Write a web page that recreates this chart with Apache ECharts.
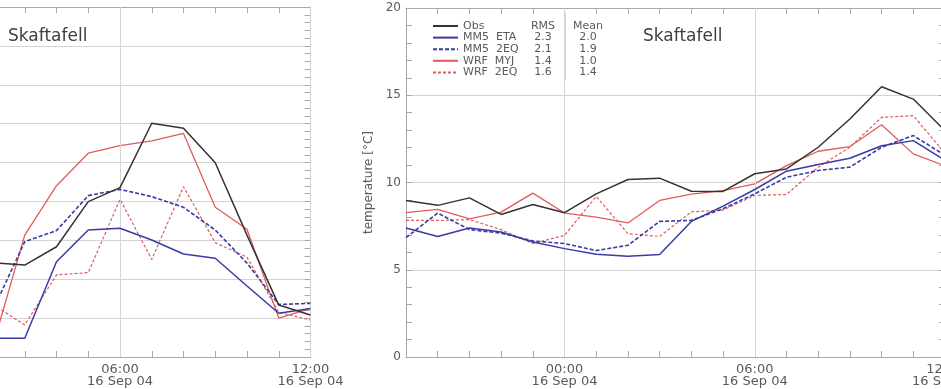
<!DOCTYPE html>
<html>
<head>
<meta charset="utf-8">
<script src="https://cdn.jsdelivr.net/npm/echarts@6/dist/echarts.min.js"></script>
<style>
html,body{margin:0;padding:0;background:#fff;}
#c{width:941px;height:389px;}
</style>
</head>
<body>
<div id="c"></div>
<script>
// ---- data ----
const seriesNames = ['Obs', 'MM5  ETA', 'MM5  2EQ', 'WRF  MYJ', 'WRF  2EQ'];
const rmsValues = [null, 2.3, 2.1, 1.4, 1.6];
const meanValues = [null, 2.0, 1.9, 1.0, 1.4];

// left panel (hours relative to 00:00 16 Sep 04)
const hoursLeft = [2, 3, 4, 5, 6, 7, 8, 9, 10, 11, 12];
const obsLeft    = [4.85, 4.73, 5.67, 7.99, 8.71, 12.02, 11.76, 9.99, 6.27, 2.67, 2.16];
const mm5EtaLeft = [0.96, 0.96, 4.90, 6.53, 6.62, 6.02, 5.30, 5.08, 3.65, 2.25, 2.50];
const mm52eqLeft = [2.42, 5.93, 6.50, 8.30, 8.62, 8.25, 7.70, 6.53, 4.83, 2.70, 2.76];
const wrfMyjLeft = [0.60, 6.27, 8.81, 10.48, 10.87, 11.12, 11.50, 7.70, 6.57, 2.00, 2.50];
const wrf2eqLeft = [2.70, 1.65, 4.22, 4.34, 8.11, 5.02, 8.76, 5.88, 5.13, 2.30, 1.90];

// right panel: temperature [°C]
const hoursRight = [-5, -4, -3, -2, -1, 0, 1, 2, 3, 4, 5, 6, 7, 8, 9, 10, 11, 12];
const obsRight    = [8.97, 8.69, 9.12, 8.17, 8.74, 8.27, 9.35, 10.17, 10.25, 9.50, 9.49, 10.50, 10.78, 12.02, 13.64, 15.49, 14.78, 12.97];
const mm5EtaRight = [7.39, 6.91, 7.39, 7.16, 6.59, 6.21, 5.89, 5.77, 5.87, 7.77, 8.65, 9.60, 10.65, 11.03, 11.39, 12.11, 12.40, 11.27];
const mm52eqRight = [6.84, 8.25, 7.30, 7.10, 6.65, 6.50, 6.10, 6.40, 7.77, 7.83, 8.50, 9.35, 10.30, 10.69, 10.88, 12.02, 12.69, 11.56];
const wrfMyjRight = [8.27, 8.46, 7.92, 8.30, 9.39, 8.25, 8.02, 7.68, 8.97, 9.33, 9.54, 9.92, 10.97, 11.79, 12.06, 13.31, 11.64, 10.95];
const wrf2eqRight = [7.83, 7.83, 7.87, 7.30, 6.50, 6.97, 9.20, 7.07, 6.91, 8.32, 8.42, 9.26, 9.31, 10.88, 12.02, 13.73, 13.83, 11.67];

const gridLinesHours = [0, 6, 12];

// ---- styles ----
const FONT = 'DejaVu Sans';
const TXT = '#5a5a5a';
const AXIS = '#a8a8a8';
const GRIDC = '#d4d4d4';
const styles = [
  {color: '#333333', width: 1.5, type: 'solid'},
  {color: '#3a3aa6', width: 1.5, type: 'solid'},
  {color: '#3a3aa6', width: 1.6, type: [4, 2]},
  {color: '#e25a5a', width: 1.3, type: 'solid'},
  {color: '#e25a5a', width: 1.2, type: [3, 2]}
];

function pad(n){ return (n < 10 ? '0' : '') + n; }
function fmtHour(h){
  if (h % 6 !== 0) return '';
  const hh = ((h % 24) + 24) % 24;
  const day = h < 0 ? 15 : 16;
  return pad(hh) + ':00\n' + day + ' Sep 04';
}

function xAxes(gridIndex, min, max){
  return [
    {
      type: 'value', gridIndex, min, max, interval: 1, position: 'bottom',
      axisLine: {show: true, onZero: false, lineStyle: {color: AXIS, width: 1}},
      axisTick: {show: true, inside: true, length: 6, lineStyle: {color: AXIS}},
      axisLabel: {show: true, formatter: fmtHour, margin: 7, fontFamily: FONT, fontSize: 13,
                  color: TXT, lineHeight: 12, showMinLabel: true, showMaxLabel: true},
      splitLine: {show: false}
    },
    {
      type: 'value', gridIndex, min, max, interval: 1, position: 'top',
      axisLine: {show: true, onZero: false, lineStyle: {color: AXIS, width: 1}},
      axisTick: {show: true, inside: true, length: 6, lineStyle: {color: AXIS}},
      axisLabel: {show: false},
      splitLine: {show: false}
    }
  ];
}

function yAxes(gridIndex, min, max, interval, withName){
  const base = {
    type: 'value', gridIndex, min, max, interval,
    axisLine: {show: true, onZero: false, lineStyle: {color: AXIS, width: 1}},
    axisTick: {show: true, inside: true, length: 6, lineStyle: {color: AXIS}},
    minorTick: {show: true, splitNumber: 5, length: 6, lineStyle: {color: AXIS}},
    minorSplitLine: {show: false}
  };
  return [
    Object.assign({}, base, {
      position: 'left',
      axisLabel: {show: true, margin: 5, fontFamily: FONT, fontSize: 12, color: TXT},
      splitLine: {show: true, lineStyle: {color: GRIDC, width: 1}},
      name: withName ? 'temperature [°C]' : '',
      nameLocation: 'middle', nameGap: 19, nameRotate: 90,
      nameTextStyle: {fontFamily: FONT, fontSize: 12, color: TXT}
    }),
    Object.assign({}, base, {
      position: 'right',
      axisLabel: {show: false},
      splitLine: {show: false}
    })
  ];
}

function panelSeries(gridIdx, hours, arrays){
  const xi = gridIdx * 2, yi = gridIdx * 2;
  const out = [{
    type: 'line', xAxisIndex: xi, yAxisIndex: yi, data: [], silent: true, z: 1,
    markLine: {
      silent: true, symbol: ['none', 'none'], label: {show: false},
      lineStyle: {color: GRIDC, width: 1, type: 'solid'},
      emphasis: {disabled: true},
      data: gridLinesHours.map(h => ({xAxis: h}))
    }
  }];
  arrays.forEach((arr, i) => {
    out.push({
      name: seriesNames[i], type: 'line', xAxisIndex: xi, yAxisIndex: yi,
      data: hours.map((h, k) => [h, arr[k]]),
      symbol: 'none', showSymbol: false, clip: true, z: 3 + (4 - i),
      lineStyle: {color: styles[i].color, width: styles[i].width, type: styles[i].type},
      itemStyle: {color: styles[i].color},
      emphasis: {disabled: true}
    });
  });
  return out;
}

const chart = echarts.init(document.getElementById('c'), null, {renderer: 'canvas'});

const option = {
  animation: false,
  backgroundColor: '#ffffff',
  title: [
    {text: 'Skaftafell', left: 3, top: 23, textStyle: {fontFamily: FONT, fontSize: 17, fontWeight: 'normal', color: '#404040'}},
    {text: 'Skaftafell', left: 638, top: 23, textStyle: {fontFamily: FONT, fontSize: 17, fontWeight: 'normal', color: '#404040'}}
  ],
  grid: [
    {left: -7, top: 7, width: 317.5, height: 350, containLabel: false, outerBoundsMode: 'none'},
    {left: 406, top: 8, width: 539, height: 349, containLabel: false, outerBoundsMode: 'none'}
  ],
  xAxis: xAxes(0, 2, 12).concat(xAxes(1, -5, 12)),
  yAxis: yAxes(0, 0, 18, 2, false).concat(yAxes(1, 0, 20, 5, true)),
  legend: {
    show: true, orient: 'vertical', left: 432, top: 20.5,
    itemWidth: 25, itemHeight: 10, itemGap: 0.6, padding: 0,
    selectedMode: true,
    itemStyle: {opacity: 0, borderWidth: 0},
    data: seriesNames,
    formatter: function(name){
      const i = seriesNames.indexOf(name);
      const r = i === 0 ? 'RMS' : rmsValues[i].toFixed(1);
      const m = i === 0 ? 'Mean' : meanValues[i].toFixed(1);
      return '{n|' + name + '}{r|' + r + '}{m|' + m + '}';
    },
    textStyle: {
      fontFamily: FONT, fontSize: 11, color: TXT, lineHeight: 10,
      rich: {
        n: {width: 70, fontFamily: FONT, fontSize: 11, color: TXT, lineHeight: 10},
        r: {width: 20, align: 'right', fontFamily: FONT, fontSize: 11, color: TXT, lineHeight: 10},
        m: {width: 36, padding: [0, 0, 0, 17], fontFamily: FONT, fontSize: 11, color: TXT, lineHeight: 10}
      }
    }
  },
  graphic: [
    {type: 'line', silent: true, shape: {x1: 565, y1: 13, x2: 565, y2: 80}, style: {stroke: '#b0b0b0', lineWidth: 1}}
  ],
  series: panelSeries(0, hoursLeft, [obsLeft, mm5EtaLeft, mm52eqLeft, wrfMyjLeft, wrf2eqLeft])
    .concat(panelSeries(1, hoursRight, [obsRight, mm5EtaRight, mm52eqRight, wrfMyjRight, wrf2eqRight]))
};

chart.setOption(option);
</script>
</body>
</html>
